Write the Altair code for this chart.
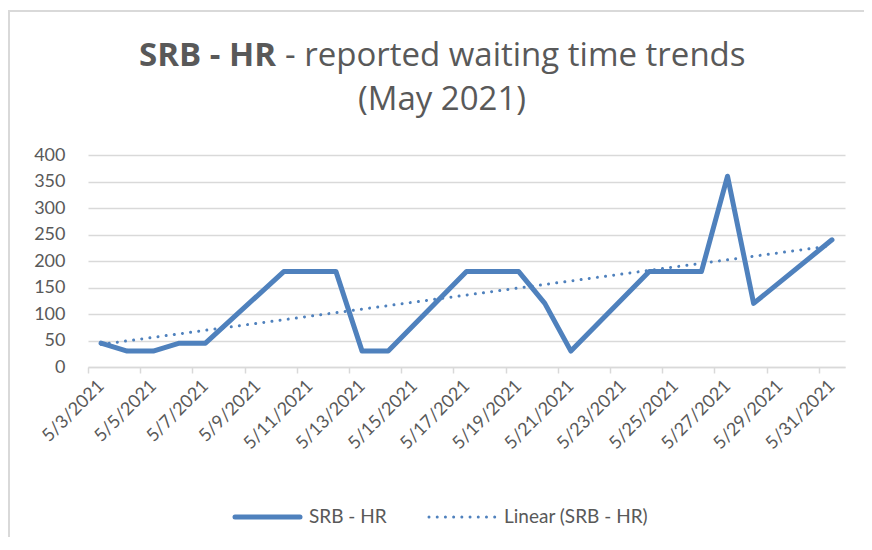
import altair as alt
import pandas as pd

# Weekday reports, May 2021 (day of month)
days = [3, 4, 5, 6, 7, 10, 11, 12, 13, 14, 17, 18, 19, 20, 21, 24, 25, 26, 27, 28, 31]
waiting = [45, 30, 30, 45, 45, 180, 180, 180, 30, 30, 180, 180, 180, 120, 30, 180, 180, 180, 360, 120, 240]
tick_days = [3, 5, 7, 9, 11, 13, 15, 17, 19, 21, 23, 25, 27, 29, 31]
y_ticks = [0, 50, 100, 150, 200, 250, 300, 350, 400]

title_bold = "SRB - HR"
title_rest = "- reported waiting time trends"
title_line2 = "(May 2021)"
legend_series = "SRB - HR"
legend_trend = "Linear (SRB - HR)"

BLUE = "#4F81BD"
GREY = "#595959"
GRID = "#D9D9D9"
FONT = "Lato"
TFONT = "Open Sans"

W, H = 757, 212
DAYW = W / 29.0

df = pd.DataFrame({"day": days, "value": waiting})
one = pd.DataFrame({"a": [0]})

xscale = alt.Scale(domain=[2.5, 31.5], nice=False, zero=False)
yscale = alt.Scale(domain=[0, 400], nice=False)

xaxis = alt.Axis(
    values=tick_days,
    labelExpr="'5/' + datum.value + '/2021'",
    labelAngle=-45,
    labelAlign="right",
    labelBaseline="middle",
    labelFontSize=18,
    labelColor=GREY,
    labelFont=FONT,
    labelPadding=10,
    tickOffset=-DAYW / 2,
    labelOffset=DAYW / 2,
    tickSize=6,
    tickColor=GRID,
    tickWidth=1.5,
    domainColor=GRID,
    domainWidth=1.5,
    grid=False,
    title=None,
    labelOverlap=False,
)
yaxis = alt.Axis(
    values=y_ticks,
    tickCount=9,
    labelFontSize=18,
    labelColor=GREY,
    labelFont=FONT,
    labelPadding=23,
    labelOverlap=False,
    domain=False,
    ticks=False,
    grid=True,
    gridColor=GRID,
    gridWidth=1.4,
    title=None,
)

base = alt.Chart(df)

line = base.mark_line(color=BLUE, strokeWidth=5, strokeJoin="round", strokeCap="round").encode(
    x=alt.X("day:Q", scale=xscale, axis=xaxis),
    y=alt.Y("value:Q", scale=yscale, axis=yaxis),
)

trend = base.transform_regression("day", "value", extent=[3, 31]).mark_line(
    color=BLUE, strokeWidth=3, strokeDash=[0.01, 8.2], strokeCap="round"
).encode(
    x=alt.X("day:Q", scale=xscale, axis=xaxis),
    y=alt.Y("value:Q", scale=yscale, axis=yaxis),
)

ob = alt.Chart(one)

border_top = ob.mark_rule(color=GRID, strokeWidth=2).encode(
    x=alt.value(-79), x2=alt.value(800), y=alt.value(-144)
)
border_left = ob.mark_rule(color=GRID, strokeWidth=2).encode(
    x=alt.value(-79), y=alt.value(-145), y2=alt.value(600)
)

t1a = ob.mark_text(text=title_bold, font=TFONT, fontSize=33, fontWeight="bold", color=GREY,
                   align="right", baseline="alphabetic").encode(x=alt.value(188), y=alt.value(-89))
t1b = ob.mark_text(text=title_rest, font=TFONT, fontSize=33, color=GREY,
                   align="left", baseline="alphabetic").encode(x=alt.value(197), y=alt.value(-89))
t2 = ob.mark_text(text=title_line2, font=TFONT, fontSize=33, color=GREY,
                  align="center", baseline="alphabetic").encode(x=alt.value(354), y=alt.value(-45))

leg_solid = ob.mark_rule(color=BLUE, strokeWidth=5, strokeCap="round").encode(
    x=alt.value(147), x2=alt.value(212), y=alt.value(362)
)
leg_solid_t = ob.mark_text(text=legend_series, font=FONT, fontSize=19, color=GREY,
                           align="left", baseline="middle").encode(x=alt.value(221), y=alt.value(362))
leg_dot = ob.mark_rule(color=BLUE, strokeWidth=3, strokeDash=[0.01, 8.2], strokeCap="round").encode(
    x=alt.value(341), x2=alt.value(410), y=alt.value(362)
)
leg_dot_t = ob.mark_text(text=legend_trend, font=FONT, fontSize=19, color=GREY,
                         align="left", baseline="middle").encode(x=alt.value(416), y=alt.value(362))

chart = alt.layer(
    border_top, border_left, line, trend, t1a, t1b, t2, leg_solid, leg_solid_t, leg_dot, leg_dot_t
).properties(
    width=W, height=H,
    autosize=alt.AutoSizeParams(type="none"),
    padding={"left": 80, "top": 147, "right": 19, "bottom": 170},
    background="white",
).configure_view(stroke=None)

chart.save("out.html", embed_options={"renderer": "svg", "actions": False})
